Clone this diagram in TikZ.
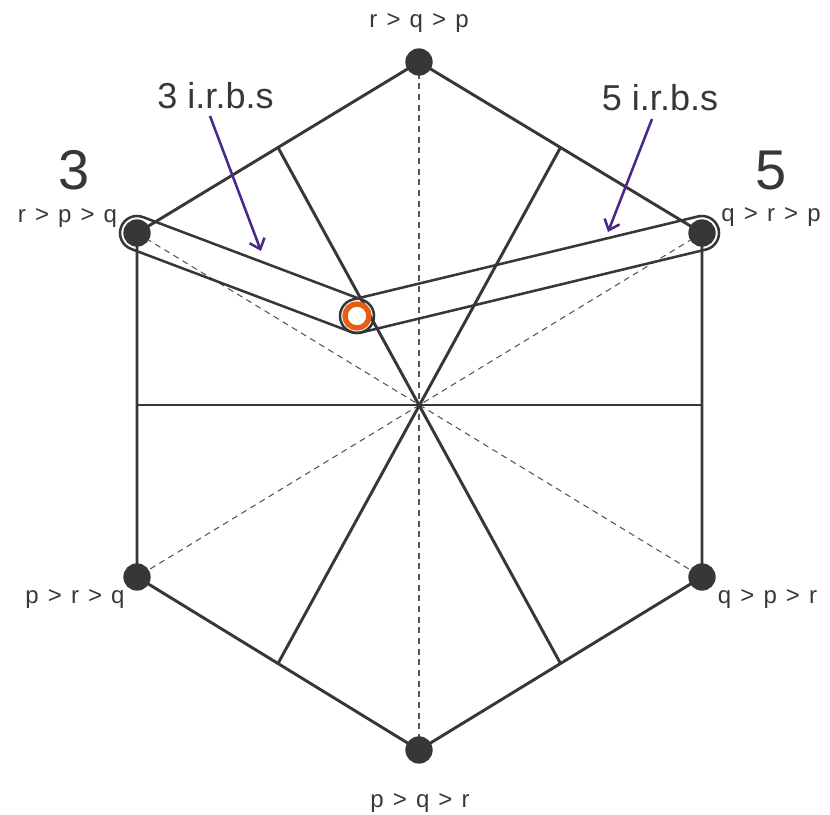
\documentclass[tikz,border=0pt]{standalone}
\usepackage{fontspec}
\setmainfont{Liberation Sans}
\usetikzlibrary{calc,arrows.meta}
\definecolor{ink}{RGB}{55,55,55}
\definecolor{dashgray}{RGB}{85,85,85}
\definecolor{arrowpurple}{RGB}{72,40,140}
\definecolor{orangering}{RGB}{232,92,20}
\newcommand{\gsp}{\hspace{0.38em}}
\tikzset{
  edge/.style={draw=ink, line width=2.2pt},
  dashline/.style={draw=dashgray, line width=0.8pt, dash pattern=on 4.5pt off 3.5pt},
  capsule/.style={draw=ink, line width=1.9pt},
  vdot/.style={circle, fill=ink, inner sep=0pt, minimum size=20.5pt},
  small/.style={text=ink, font=\fontsize{18}{20}\selectfont, anchor=base, inner sep=0pt},
  irbs/.style={text=ink, font=\fontsize{27}{30}\selectfont, anchor=base, inner sep=0pt},
  bignum/.style={text=ink, font=\fontsize{42}{46}\selectfont, anchor=base, inner sep=0pt},
  pointer/.style={draw=arrowpurple, line width=1.9pt, -{Straight Barb[length=7pt,width=12pt,line width=1.9pt]}}
}
\begin{document}
\begin{tikzpicture}[x=0.75pt,y=0.75pt]
\useasboundingbox (0,0) rectangle (830,814);
% vertices
\coordinate (T) at (419,752);
\coordinate (UL) at (137,581);
\coordinate (UR) at (702,581);
\coordinate (LL) at (137,237);
\coordinate (LR) at (702,237);
\coordinate (B) at (419,64);
\coordinate (O) at (419,409);
\coordinate (ML) at (137,409);
\coordinate (MR) at (702,409);
\coordinate (Mtl) at ($(T)!0.5!(UL)$);
\coordinate (Mtr) at ($(T)!0.5!(UR)$);
\coordinate (Mbl) at ($(LL)!0.5!(B)$);
\coordinate (Mbr) at ($(LR)!0.5!(B)$);
\coordinate (S) at (357,498);
% dashed diagonals
\draw[dashline] (T) -- (B);
\draw[dashline] (UL) -- (LR);
\draw[dashline] (UR) -- (LL);
% hexagon
\draw[edge] (T) -- (UL) -- (LL) -- (B) -- (LR) -- (UR) -- cycle;
% spokes
\draw[edge] (ML) -- (MR);
\draw[edge] (Mtl) -- (Mbr);
\draw[edge] (Mtr) -- (Mbl);
% capsules
\draw[capsule] ($(UL)+(69.33:17)$) -- ($(S)+(69.33:17)$)
  arc[start angle=69.33,end angle=-110.67,radius=12.75pt]
  -- ($(UL)+(-110.67:17)$)
  arc[start angle=249.33,end angle=69.33,radius=12.75pt] -- cycle;
\draw[capsule] ($(S)+(103.53:17)$) -- ($(UR)+(103.53:17)$)
  arc[start angle=103.53,end angle=-76.47,radius=12.75pt]
  -- ($(S)+(-76.47:17)$)
  arc[start angle=283.53,end angle=103.53,radius=12.75pt] -- cycle;
% dots
\node[vdot] (dT) at (T) {};
\node[vdot] (dUL) at (UL) {};
\node[vdot] (dUR) at (UR) {};
\node[vdot] (dLL) at (LL) {};
\node[vdot] (dLR) at (LR) {};
\node[vdot] (dB) at (B) {};
% orange point
\draw[draw=orangering, fill=white, line width=4pt] (S) circle[radius=12];
% labels
\node[small] (lT) at (419,786) {r\gsp>\gsp q\gsp>\gsp p};
\node[small] (lB) at (420,7) {p\gsp>\gsp q\gsp>\gsp r};
\node[small] (lUL) at (67.5,591) {r\gsp>\gsp p\gsp>\gsp q};
\node[small] (lUR) at (771,592) {q\gsp>\gsp r\gsp>\gsp p};
\node[small] (lLL) at (75,211) {p\gsp>\gsp r\gsp>\gsp q};
\node[small] (lLR) at (767.5,211) {q\gsp>\gsp p\gsp>\gsp r};
\node[bignum] (n3) at (74,624) {3};
\node[bignum] (n5) at (771,624) {5};
\node[irbs] (i3) at (215.5,705) {3 i.r.b.s};
\node[irbs] (i5) at (660,703) {5 i.r.b.s};
% arrows
\coordinate (a3s) at (210,698);
\coordinate (a3e) at (261,563);
\coordinate (a5s) at (652,695);
\coordinate (a5e) at (608,582);
\draw[pointer] (a3s) -- (a3e);
\draw[pointer] (a5s) -- (a5e);
\end{tikzpicture}
\end{document}
